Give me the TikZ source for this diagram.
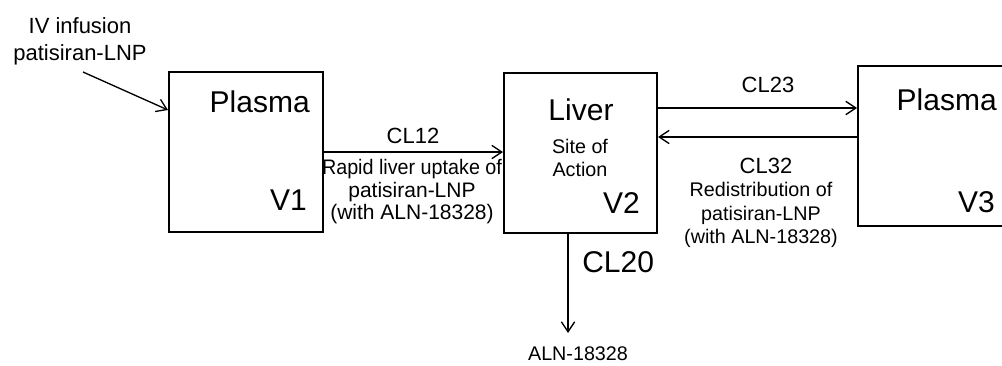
\documentclass[tikz,border=0pt]{standalone}
\usepackage{fontspec}
\setmainfont{Liberation Sans}
\usetikzlibrary{arrows.meta}
\begin{document}
\begin{tikzpicture}[x=0.75pt,y=-0.75pt,
  box/.style={draw, line width=1.5pt, minimum height=120pt, inner sep=0pt, anchor=north west},
  arr/.style={-{Straight Barb[length=7.5pt,width=10pt]}, line width=1pt},
  lbl/.style={inner sep=0pt},
  big/.style={lbl, font=\fontsize{22.5}{27}\selectfont},
  mid/.style={lbl, font=\fontsize{16.5}{20}\selectfont},
  small/.style={lbl, align=center, font=\fontsize{15}{17.5}\selectfont}]
\useasboundingbox (0,0) rectangle (1002,365);
% compartments
\node[box, minimum width=115.5pt]  (v1) at (168,71) {};
\node[box, minimum width=114.75pt] (v2) at (503,72) {};
\node[box, minimum width=114.75pt] (v3) at (857,65) {};
% box texts
\node[big, anchor=base east] (p1) at (310,112) {Plasma};
\node[big, anchor=base east] (n1) at (307,210) {V1};
\node[big, anchor=base] (lv) at (581,120) {Liver};
\node[small, anchor=north, font=\fontsize{14.8}{17.25}\selectfont] (soa) at (580,139) {Site of\\Action};
\node[big, anchor=base east] (n2) at (640,213) {V2};
\node[big, anchor=base east] (p3) at (997,110) {Plasma};
\node[big, anchor=base east] (n3) at (995,212) {V3};
% infusion
\node[lbl, align=center, anchor=north, font=\fontsize{16.5}{20.25}\selectfont] (iv) at (80,17) {IV infusion\\patisiran-LNP};
\coordinate (ivs) at (83,72);
\draw[arr] (ivs) -- (v1.west |- 0,110);
% CL12
\draw[arr] (v1.east |- 0,152) -- (v2.west |- 0,152);
\node[mid, anchor=base] (cl12) at (413,143) {CL12};
\node[small, anchor=north, font=\fontsize{15.75}{16.9}\selectfont] (up) at (412,159) {\scalebox{0.94}[1]{Rapid liver uptake of}\\patisiran-LNP\\(with ALN-18328)};
% CL23 / CL32
\draw[arr] (v2.east |- 0,108) -- (v3.west |- 0,108);
\node[mid, anchor=base] (cl23) at (768,92) {CL23};
\draw[arr] (v3.west |- 0,137) -- (v2.east |- 0,137);
\node[mid, anchor=base] (cl32) at (766,173) {CL32};
\node[small, anchor=north, font=\fontsize{14.8}{17.6}\selectfont] (re) at (761,182) {Redistribution of\\patisiran-LNP\\(with ALN-18328)};
% CL20
\coordinate (elim) at (568,333);
\draw[arr] (v2.south -| elim) -- (elim);
\node[big, anchor=base west] (cl20) at (582,272) {CL20};
\node[lbl, anchor=base, font=\fontsize{14.8}{17}\selectfont] (aln) at (578,360) {ALN-18328};
\end{tikzpicture}
\end{document}
